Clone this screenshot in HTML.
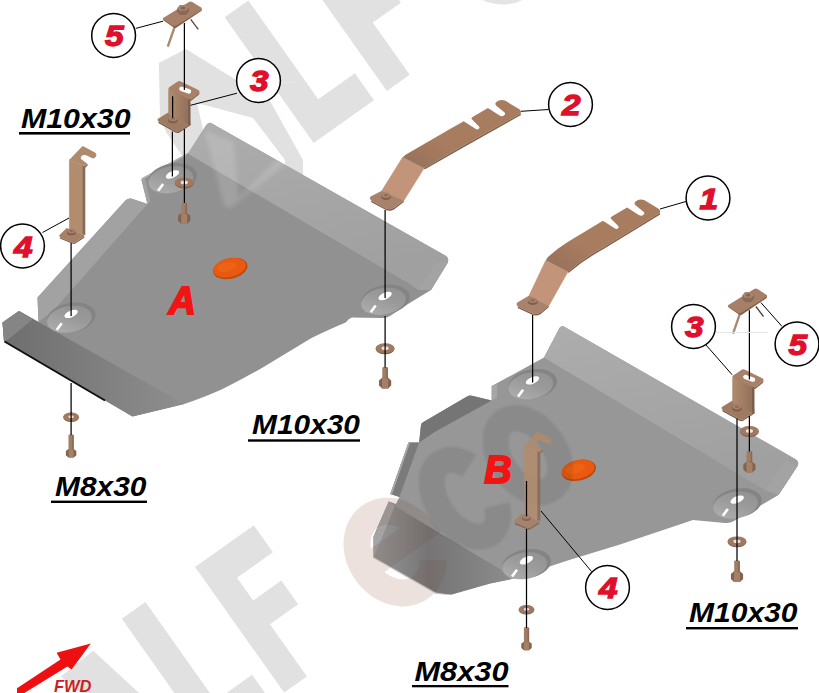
<!DOCTYPE html>
<html>
<head>
<meta charset="utf-8">
<title>Skid plate assembly diagram</title>
<style>
  html, body { margin: 0; padding: 0; background: #ffffff; }
  body { width: 819px; height: 693px; overflow: hidden; font-family: "Liberation Sans", sans-serif; }
  svg { display: block; }
  .lbl { font-family: "Liberation Sans", sans-serif; font-weight: bold; font-style: italic; fill: #000; }
  .num { font-family: "Liberation Sans", sans-serif; font-weight: bold; font-style: italic; fill: #e0102c; stroke: #e0102c; stroke-width: 1.3; font-size: 29.5px; }
  .ab  { font-family: "Liberation Sans", sans-serif; font-weight: bold; font-style: italic; fill: #f01414; stroke: #f01414; stroke-width: 1.8; font-size: 38px; }
  .ln  { stroke: #000; stroke-width: 1.25; fill: none; }
  .ld  { stroke: #000; stroke-width: 1; fill: none; }
  .co  { fill: #fff; stroke: #000; stroke-width: 1.5; }
</style>
</head>
<body>
<svg width="819" height="693" viewBox="0 0 819 693">
<defs>
  <linearGradient id="gFlapA" x1="0" y1="0" x2="1" y2="0">
    <stop offset="0" stop-color="#6e6e6e"/><stop offset="1" stop-color="#8e8e8e"/>
  </linearGradient>
  <linearGradient id="gFlapB" x1="0" y1="0" x2="1" y2="0">
    <stop offset="0" stop-color="#989898"/><stop offset="0.4" stop-color="#767474"/><stop offset="1" stop-color="#8c8c8c"/>
  </linearGradient>
  <linearGradient id="gWallA" x1="0" y1="0" x2="0.35" y2="1">
    <stop offset="0" stop-color="#adadad"/><stop offset="1" stop-color="#a0a0a0"/>
  </linearGradient>
  <radialGradient id="gSink" cx="0.5" cy="0.35" r="0.7">
    <stop offset="0" stop-color="#b4b4b4"/><stop offset="1" stop-color="#959595"/>
  </radialGradient>
  <!-- washer -->
  <g id="washL"><ellipse cx="0" cy="0.7" rx="9.4" ry="5.2" fill="#7f5f4c"/><ellipse cx="0" cy="0" rx="9.4" ry="5" fill="#9f7a63"/><ellipse cx="0" cy="-0.1" rx="3.6" ry="1.9" fill="#f1e3db"/></g>
  <g id="washS"><ellipse cx="0" cy="0.6" rx="7.8" ry="4.6" fill="#7f5f4c"/><ellipse cx="0" cy="0" rx="7.8" ry="4.4" fill="#9f7a63"/><ellipse cx="0" cy="-0.1" rx="2.8" ry="1.5" fill="#f1e3db"/></g>
  <!-- bolt, origin = top of shaft -->
  <g id="boltL">
    <path d="M-2.8 1 Q-2.8 0 -1.8 0 L1.8 0 Q2.8 0 2.8 1 L2.8 12 L-2.8 12 Z" fill="#a27d65"/>
    <path d="M-6.1 13.5 L-3 10.8 L3 10.8 L6.1 13.5 L6.1 18.5 L3 21.6 L-3 21.6 L-6.1 18.5 Z" fill="#83634f"/>
    <path d="M-3 10.8 L3 10.8 L3 21.6 L-3 21.6 Z" fill="#a58068"/>
    <path d="M1.2 0.5 L2.8 1 L2.8 12 L1.2 12 Z" fill="#8a6955"/>
  </g>
  <g id="boltS">
    <path d="M-2.6 1 Q-2.6 0 -1.6 0 L1.6 0 Q2.6 0 2.6 1 L2.6 15.5 L-2.6 15.5 Z" fill="#a27d65"/>
    <path d="M-5.2 16.3 L-2.6 14.4 L2.6 14.4 L5.2 16.3 L5.2 20.8 L2.6 23 L-2.6 23 L-5.2 20.8 Z" fill="#83634f"/>
    <path d="M-2.6 14.4 L2.6 14.4 L2.6 23 L-2.6 23 Z" fill="#a58068"/>
    <path d="M1.1 0.5 L2.6 1 L2.6 15 L1.1 15 Z" fill="#8a6955"/>
  </g>
  <linearGradient id="gB3" x1="0" y1="0" x2="1" y2="0">
    <stop offset="0" stop-color="#b18c70"/><stop offset="1" stop-color="#93705a"/>
  </linearGradient>
  <linearGradient id="gArm" x1="0" y1="1" x2="1" y2="0">
    <stop offset="0" stop-color="#94705a"/><stop offset="0.35" stop-color="#a87c5f"/><stop offset="1" stop-color="#a87c5f"/>
  </linearGradient>
  <!-- bracket 3 (coordinates of left instance) -->
  <g id="b3">
    <path d="M158.3 118.6 L168.6 112.2 L190.4 121.5 L190.4 123.6 L179.6 130.8 Q177.6 132 175.4 131 L158.7 121.6 Q156.6 120 158.3 118.6 Z" fill="#9f7a62"/>
    <path d="M158.7 121.6 L175.4 131 Q177.6 132 179.6 130.8 L190.4 123.6 L190.4 125.3 L179.6 132.4 Q177.6 133.4 175.4 132.5 L158.3 123 Z" fill="#7c5e4b"/>
    <path d="M168.6 90 Q168.6 88 170 87 L188 97.5 L188 124.8 L168.6 114.5 Z" fill="url(#gB3)" stroke="#a27e65" stroke-width="0.5"/>
    <path d="M188 97.5 L190.5 98.7 L190.5 125.3 L188 124.3 Z" fill="#7c5e4b"/>
    <path d="M169.2 87.3 L177.3 81.7 Q179 80.6 181 81.5 L198.3 90 Q200.4 91.3 198.8 93 L191.6 98.8 Q190 99.8 188 98.8 L169.6 89.6 Q168 88.4 169.2 87.3 Z" fill="#a88268"/>
    <path d="M198.8 93 L191.6 98.8 Q190 99.8 188 98.8 L188 100.6 Q190 101.4 191.6 100.5 L198.8 94.7 Q199.8 93.8 199.4 92.3 Z" fill="#86664f"/>
    <rect x="-6.2" y="-2.2" width="12.4" height="4.4" rx="2.2" transform="translate(185.2,90.1) rotate(19)" fill="#fff"/>
    <ellipse cx="172.9" cy="120.2" rx="4.8" ry="3.1" fill="#7e5f4c"/><ellipse cx="172.9" cy="118.6" rx="4.2" ry="2.6" fill="#a6826a"/><ellipse cx="172.9" cy="118.5" rx="2" ry="1.2" fill="#8d6b56"/>
  </g>
  <!-- bracket 5 (coordinates of left instance) -->
  <g id="b5">
    <path d="M174.6 27 L167.8 46.6" stroke="#a88c72" stroke-width="2.4" fill="none"/>
    <path d="M190.7 19.4 L198.3 29.4" stroke="#54433a" stroke-width="1.3" fill="none"/>
    <path d="M163.2 20.2 L174 27.7 Q175.3 28.3 176.6 27.6 L201.6 10.8 L201.6 8.7 L163.2 18.2 Z" fill="#7f604d"/>
    <path d="M163.2 17.9 L189 1.9 Q190.7 1 192.3 2 L201.2 7.6 Q202.6 8.8 201.2 10 L175.8 26 Q174.2 26.8 172.8 25.8 L163.4 19.8 Q162.2 18.8 163.2 17.9 Z" fill="#a67f66"/>
    <path d="M177.2 8.4 L179.8 5.2 L185.6 4.8 L189 7.6 L189 11.6 L186 14.8 L180.4 15 L177.2 12.2 Z" fill="#8a6955"/>
    <path d="M177.2 8.4 L179.8 5.2 L185.6 4.8 L189 7.6 L186.2 10.6 L180.4 11 Z" fill="#a98670"/>
    <ellipse cx="183" cy="8" rx="2.6" ry="1.6" fill="#86654f"/>
  </g>
  <!-- bracket 4 (coordinates of left instance) -->
  <g id="b4">
    <path d="M59.7 234.8 L66.7 227.9 L84.3 235 L84.3 236.4 L75.4 242.2 Q73.8 243 72 242.2 L60.2 237.4 Q58.4 236.2 59.7 234.8 Z" fill="#a68068"/>
    <path d="M60.2 237.4 L72 242.2 Q73.8 243 75.4 242.2 L84.3 236.4 L84.3 237.8 L75.4 243.6 Q73.8 244.3 72 243.6 L59.8 238.6 Z" fill="#7c5e4b"/>
    <path d="M69.4 159.8 L82.6 165.2 L82.6 234.2 L69.4 229.8 Z" fill="#b28c6f" stroke="#b28c6f" stroke-width="0.6"/>
    <path d="M82.4 165.2 L85.3 166.2 L85.3 235.2 L82.4 234.2 Z" fill="#8b6a55"/>
    <path d="M69.4 159.8 L81.6 146.9 Q82.6 146 83.8 146.6 L95 152.4 Q96.9 153.8 96.3 155.8 Q95.4 158.2 93 158.6 L86 155.2 Q83.6 154.4 81.8 155.8 Q80 157.6 81 159 L87.3 163.8 L85.3 166.2 L82.6 165.2 Z" fill="#b08a6d"/>
    <path d="M87.3 163.8 L85.3 166.2 L85.3 168 L87.8 165.2 Z" fill="#86664f"/>
    <ellipse cx="71.4" cy="232.4" rx="4.4" ry="2.9" fill="#7e5f4c"/><ellipse cx="71.4" cy="230.9" rx="3.9" ry="2.5" fill="#a6826a"/><ellipse cx="71.4" cy="230.8" rx="1.8" ry="1.1" fill="#8d6b56"/>
  </g>
  <linearGradient id="gSink2" x1="0" y1="1" x2="1" y2="0">
    <stop offset="0" stop-color="#b2b2b2"/><stop offset="0.55" stop-color="#9a9a9a"/><stop offset="1" stop-color="#909090"/>
  </linearGradient>
  <g id="sink">
    <ellipse cx="0" cy="0" rx="24.6" ry="14.6" fill="#848484" transform="rotate(-10)"/>
    <ellipse cx="-2.2" cy="1.4" rx="22.6" ry="13.2" fill="url(#gSink2)" transform="rotate(-10)"/>
    <ellipse cx="-0.2" cy="-3.6" rx="7.2" ry="3.3" fill="#fff" transform="rotate(-24 -0.2 -3.6)"/>
    <path d="M-14.6 12.6 L-9.6 5.8" stroke="#fff" stroke-width="2.6" stroke-linecap="butt" fill="none"/>
  </g>
  <filter id="blur2" x="-20%" y="-20%" width="140%" height="140%"><feGaussianBlur stdDeviation="2.2"/></filter>
  <filter id="blur1" x="-30%" y="-30%" width="160%" height="160%"><feGaussianBlur stdDeviation="1.2"/></filter>
</defs>

<rect x="0" y="0" width="819" height="693" fill="#ffffff"/>

<!-- ============ WATERMARK ============ -->
<path fill="#e1e1e1" fill-rule="evenodd" d="M158.8 63 L185.9 49 L270 101 L303 160 L303 182 L200 182 L166 132 L160 115 Z M197 103 L253 118 L285 160 L285 182 L215 182 Z"/>
<path fill="#e1e1e1" d="M60.8 676.4 L93.2 650.8 L150 703 L93 703 Z"/>
<g id="wmTop" transform="translate(313.6,142.9) rotate(-35.3)">
  <g fill="#e1e1e1">
    <path d="M0 0 L0 -154 L29 -154 L29 -33 L74 -33 L74 0 Z"/>
    <path d="M89.8 0 L89.8 -154 L161.8 -154 L161.8 -121 L117.8 -121 L117.8 -93 L152.3 -93 L152.3 -64 L117.8 -64 L117.8 0 Z"/>
  </g>
  <ellipse cx="259.5" cy="-52.5" rx="35" ry="43.5" fill="none" stroke="#e6e3e2" stroke-width="27"/>
</g>
<g id="wmBot" transform="translate(210.8,744.5) rotate(-35.3)">
  <g fill="#e1e1e1">
    <path d="M0 0 L0 -154 L29 -154 L29 -33 L74 -33 L74 0 Z"/>
    <path d="M89.8 0 L89.8 -154 L161.8 -154 L161.8 -121 L117.8 -121 L117.8 -93 L152.3 -93 L152.3 -64 L117.8 -64 L117.8 0 Z"/>
  </g>
  <g fill="none" stroke="#ece1dd" stroke-width="27">
    <path d="M227 -54 L296.5 -54 A35 43.5 0 1 0 288 -22"/>
  </g>
</g>

<!-- ============ PLATE A ============ -->
<g id="plateA">
  <!-- main -->
  <path id="plateApath" d="M210.5 122.7 L446 256 Q449.5 258.5 447.5 263 L431 290 L408 304 L390 316 Q386 318.5 381 318 L352 317.5 L349 319 L345.6 322.5 Q330 329 311.5 338 Q285 354 263.6 367 Q243 379 222.6 389 Q205 397 183.5 404.3 L132.5 416.5 L4 341.5 L2.5 322.5 L19 311 L38.5 322 L37.5 297.5 L125 201 Q127 198 131 198.5 L147.5 204 L141.5 180 L141.8 178.2 L186 154 L188.4 153 L206 125.6 Q207.6 122.6 210.5 122.7 Z" fill="#919191"/>
  <!-- top wall -->
  <path d="M210.5 122.7 L446 256 Q449.5 258.5 447.5 263 L431 290 L418 290 L408 283 L188.4 154 L188.4 153 L206 125.6 Q207.6 122.6 210.5 122.7 Z" fill="url(#gWallA)"/>
  <!-- end wall right -->
  <path d="M447.5 263 L431 290 L418 290 L436 262 Z" fill="#a3a3a3"/>
  <!-- left wall -->
  <path d="M37.5 297.5 L125 201 Q127 198 131 198.5 L147.5 204 L54 310 L38.5 322 Z" fill="#a2a2a2"/>
  <!-- tab side -->
  <path d="M141.5 180 L147.5 204 L150.5 201.5 L144.5 177.5 Z" fill="#a2a2a2"/><path d="M141.8 178.2 L186 154 L187 155 L143 179.2 Z" fill="#b4b4b4"/>
  <!-- flap -->
  <path d="M2.5 322.5 L19 311 L184 404 L132.5 416.5 L4 341.5 Z" fill="url(#gFlapA)"/>
  <path d="M2.5 322.5 L19 311 L33 319 L9 339 L4 341.5 Z" fill="#858585"/>
  <path d="M4.5 341.5 L105 400.5" stroke="#111" stroke-width="2" fill="none"/>
  <!-- countersinks -->
  <use href="#sink" x="172.7" y="178.1"/>
  <use href="#sink" x="71.3" y="317.5"/>
  <use href="#sink" x="385.3" y="299.6"/>
  <!-- orange plug -->
  <g transform="translate(230.2,268.2) rotate(-13)"><ellipse cx="0" cy="0.3" rx="17.5" ry="10.3" fill="#c2480c"/><ellipse cx="-0.5" cy="-0.6" rx="16.6" ry="9.2" fill="#e95a10"/><ellipse cx="-3" cy="-2" rx="10" ry="4.6" fill="#ee6618" fill-opacity="0.7"/></g>
</g>

<clipPath id="clipA"><use href="#plateApath"/></clipPath>
<g clip-path="url(#clipA)"><path d="M204.7 131 L233.7 141.5 L238.7 197.5 L291.8 143.6 L304.3 149.8 L229.6 208.7 L223.4 203.7 Z" fill="#fff" fill-opacity="0.14" filter="url(#blur2)"/></g>

<!-- ============ PLATE B ============ -->
<g id="plateB">
  <path id="plateBpath" d="M563 326 L796 459.5 Q799.5 462 797.5 466 L778.5 495 L734 521 Q730 523.5 725 523 L693 520 L620 544.5 L570 559.8 L545 568 L527 575 L513 578.7 L490 583.6 L451.5 594.5 L436 593.5 L373.6 557.6 L373.6 536.4 L388.8 501.5 L396 504 L399.4 497 L390.3 494 L408.5 442.4 L419.1 442.4 L421 425 Q421.4 423 423 422.2 L467 396.5 Q469.5 395 473 396 L491.7 400.5 L491.7 386 L544 357.6 L558.4 330 Q560 326 563 326 Z" fill="#979797"/>
  <!-- back wall -->
  <path d="M563 326 L796 459.5 Q799.5 462 797.5 466 L778.5 495 L765 490 L544 357.6 L558.4 330 Q560 326 563 326 Z" fill="url(#gWallA)"/>
  <path d="M797.5 466 L778.5 495 L765 490 L785 462 Z" fill="#a3a3a3"/>
  <!-- left wall -->
  <path d="M421 425 Q421.4 423 423 422.2 L467 396.5 Q469.5 395 473 396 L491.7 400.5 L434.6 432 L419.1 442.4 Z" fill="#757575"/>
  <!-- tab side -->
  <path d="M491.7 386 L491.7 400.5 L497 398 L497 384 Z" fill="#a6a6a6"/>
  <!-- upper-left flap -->
  <path d="M419.1 442.4 L408.5 442.4 L390.3 494 L399.4 497 Z" fill="#7b7b7b"/><path d="M408.5 442.4 L390.3 494 L392 494.6 L410.2 442.4 Z" fill="#a8a8a8"/>
  <!-- lower front flap -->
  <path d="M388.8 501.5 L373.6 536.4 L373.6 557.6 L436 593.5 L451.5 594.5 L490 583.6 L511 579.2 L500.9 569.7 L394.8 506 Z" fill="url(#gFlapB)"/>
  <path d="M388.8 501.5 L373.6 536.4 L373.6 557.6 L381 540 L394.8 506 Z" fill="#a4a4a4"/><path d="M373.2 556.8 L436 592.6 L452 595 L436 594 L372.7 557.8 Z" fill="#c4c4c4"/>
  <!-- countersinks -->
  <use href="#sink" x="532.7" y="384"/>
  <use href="#sink" x="526.6" y="563.9"/>
  <use href="#sink" x="737.4" y="503.2"/>
  <!-- orange plug -->
  <g transform="translate(578.8,470) rotate(-13)"><ellipse cx="0" cy="0.3" rx="17.5" ry="10.3" fill="#c2480c"/><ellipse cx="-0.5" cy="-0.6" rx="16.6" ry="9.2" fill="#e95a10"/><ellipse cx="-3" cy="-2" rx="10" ry="4.6" fill="#ee6618" fill-opacity="0.7"/></g>
</g>

<!-- ============ WATERMARK over plate B (CO) ============ -->
<clipPath id="clipB"><use href="#plateBpath"/></clipPath>
<g clip-path="url(#clipB)">
  <g transform="translate(210.8,744.5) rotate(-35.3)" fill="none" stroke-width="26">
    <path d="M227 -54 L296.5 -54 A35 43.5 0 1 0 288 -22" stroke="#6a4a3a" stroke-opacity="0.15" stroke-width="27"/>
    <path d="M372 -78 A27 43 0 1 0 372 -30" stroke="#000" stroke-opacity="0.085" filter="url(#blur1)"/>
    <ellipse cx="426" cy="-53" rx="27" ry="41" stroke="#000" stroke-opacity="0.085" filter="url(#blur1)"/>
  </g>
</g>

<!-- ============ BRACKET 2 ============ -->
<g id="br2">
  <path d="M381.9 190.7 L402.7 157.3 L424 168.3 L403.8 200.6 Z" fill="#c29479" stroke="#c29479" stroke-width="0.7"/>
  <path d="M402.7 157.3 L406 154.4 L450 129 L463.7 121.3 L475.8 129 Q477.6 129.9 478.9 128.7 Q480 127.6 479 126.4 L471.6 119 Q471.2 117.7 472.6 116.9 L487.9 108.1 L500 115.8 Q502.6 116.8 504.2 115.3 Q505.8 113.8 504.6 112.6 L496 105.4 Q494.6 103.4 496.4 102 Q498.6 100 501.5 100 Q503.5 100 505 100.6 L519.8 109.4 Q521.6 111.4 520.6 113.6 L464.3 145 L424 168.3 Z" fill="url(#gArm)"/>
  <path d="M520.6 113.6 L464.3 145 L424 168.3 L424.6 169.6 L465 146.4 L521 115 Z" fill="#80604c"/>
  <path d="M370.6 196.6 L381.9 190.7 L403.8 200.6 L394 207.8 Q390.4 210 386.4 208.8 L371.6 200.8 Q368.8 198.6 370.6 196.6 Z" fill="#a8826b"/>
  <path d="M371.6 200.8 L386.4 208.8 Q390.4 210 394 207.8 L403.8 200.6 L403.8 202 L394 209.4 Q390.4 211.4 386.4 210.2 L371 202 Z" fill="#80604c"/>
  <ellipse cx="386" cy="196.8" rx="5" ry="3.1" fill="#7e5f4c"/><ellipse cx="386" cy="195.2" rx="4.4" ry="2.7" fill="#a6826a"/><ellipse cx="386" cy="195.1" rx="2" ry="1.2" fill="#8d6b56"/>
</g>
<!-- ============ BRACKET 1 ============ -->
<g id="br1">
  <path d="M529.2 295.4 L545.9 260.2 L567.9 271.7 L548.8 305.7 Z" fill="#c29479" stroke="#c29479" stroke-width="0.7"/>
  <path d="M545.9 260.2 L547.7 257.3 Q556 249.5 567.3 242.3 L602.9 220.8 L615 228.5 Q616.8 229.4 618.1 228.2 Q619.2 227.1 618.2 225.9 L610.8 218.5 Q610.4 217.2 611.8 216.4 L627.1 207.6 L639.2 215.3 Q641.8 216.3 643.4 214.8 Q645 213.3 643.8 212.1 L635.2 204.9 Q633.8 202.9 635.6 201.5 Q637.8 199.5 640.7 199.5 Q642.7 199.5 644.2 200.1 L659 208.9 Q660.8 210.9 659.8 213.1 L603.5 247.3 Q583 258.5 567.9 271.7 Z" fill="url(#gArm)"/>
  <path d="M659.8 213.1 L603.5 247.3 Q583 258.5 567.9 271.7 L568.5 273 Q583.6 260 604 248.7 L660.2 214.5 Z" fill="#80604c"/>
  <path d="M517.3 302.6 L529.2 295.4 L548.8 305.7 L540.4 312.6 Q536.8 314.8 532.8 313.6 L518.2 306.8 Q515.4 304.6 517.3 302.6 Z" fill="#a8826b"/>
  <path d="M518.2 306.8 L532.8 313.6 Q536.8 314.8 540.4 312.6 L548.8 305.7 L548.8 307.2 L540.4 314.2 Q536.8 316.2 532.8 315 L517.6 308 Z" fill="#80604c"/>
  <ellipse cx="532.7" cy="301.9" rx="5" ry="3.1" fill="#7e5f4c"/><ellipse cx="532.7" cy="300.3" rx="4.4" ry="2.7" fill="#a6826a"/><ellipse cx="532.7" cy="300.2" rx="2" ry="1.2" fill="#8d6b56"/>
</g>

<!-- ============ BRACKETS 4, 3, 5 ============ -->
<use href="#b4"/>
<use href="#b4" transform="translate(455,285.7)" opacity="0.88"/>
<use href="#b3"/>
<use href="#b3" transform="translate(564,288.2)"/>
<use href="#b5"/>
<use href="#b5" transform="translate(565.2,287.1)"/>

<!-- ============ WASHERS / BOLTS ============ -->
<use href="#washL" x="184.3" y="182.5"/>
<use href="#boltL" x="184.2" y="202.3"/>
<use href="#washS" x="71.1" y="416.8"/>
<use href="#boltS" x="71.1" y="434.6"/>
<use href="#washL" x="385.1" y="348.3"/>
<use href="#boltL" x="385.1" y="367"/>
<use href="#washS" x="526.5" y="609.3"/>
<use href="#boltS" x="526.5" y="627.3"/>
<use href="#washL" x="749.4" y="431"/>
<use href="#boltL" x="749.4" y="451"/>
<use href="#washL" x="737" y="541.4"/>
<use href="#boltL" x="737" y="560.5"/>

<!-- ============ ASSEMBLY LINES ============ -->
<g class="ln">
  <!-- plate A, upper-left stack -->
  <path d="M184.4 23 V90"/><path d="M184.4 129 V203"/>
  <path d="M172.6 96.3 V117.7"/><path d="M172.4 131.5 V176.5"/>
  <!-- bracket 4 left -->
  <path d="M71.1 243 V316"/><path d="M71.1 383 V435"/>
  <!-- bracket 2 -->
  <path d="M385.1 210 V298"/><path d="M385.1 316 V367.5"/>
  <!-- bracket 1 -->
  <path d="M532.6 315 V382.5"/>
  <!-- bracket 4 right -->
  <path d="M526.5 481 V516"/><path d="M526.5 529 V628"/>
  <!-- right stack -->
  <path d="M749.4 310.2 V379.5"/><path d="M749.4 416 V451.5"/>
  <path d="M737 418.5 V561"/>
</g>

<!-- ============ LEADERS ============ -->
<g class="ld">
  <path d="M135.8 28.4 L163 21.2"/>
  <path d="M237 93.2 L190.5 105.3"/>
  <path d="M42.5 232.5 L69 218"/>
  <path d="M521 111.3 L548.5 109.5"/>
  <path d="M660 209 L686 201.5"/>
  <path d="M706 345 L732.1 374.7"/>
  <path d="M782 326.4 L760.9 302.6"/>
  <path d="M541 511 L591.5 571.5"/>
  <path d="M237 82.2 H298" stroke="#e6e6e6"/>
  <path d="M672 332.4 H768" stroke="#e6e6e6"/>
</g>

<!-- ============ CALLOUTS ============ -->
<circle class="co" cx="113.6" cy="35.5" r="21.9"/><text class="num" x="105.0" y="46.1" textLength="18.6" lengthAdjust="spacingAndGlyphs">5</text>
<circle class="co" cx="258.5" cy="80.5" r="21.9"/><text class="num" x="249.9" y="91.1" textLength="18.6" lengthAdjust="spacingAndGlyphs">3</text>
<circle class="co" cx="22.5" cy="246" r="21.9"/><text class="num" x="13.9" y="256.6" textLength="18.6" lengthAdjust="spacingAndGlyphs">4</text>
<circle class="co" cx="570.5" cy="104.5" r="21.9"/><text class="num" x="561.9" y="115.1" textLength="18.6" lengthAdjust="spacingAndGlyphs">2</text>
<circle class="co" cx="708" cy="198" r="21.9"/><text class="num" x="699.4" y="208.6" textLength="18.6" lengthAdjust="spacingAndGlyphs">1</text>
<circle class="co" cx="693.5" cy="326.5" r="21.9"/><text class="num" x="684.9" y="337.1" textLength="18.6" lengthAdjust="spacingAndGlyphs">3</text>
<circle class="co" cx="797" cy="344" r="21.9"/><text class="num" x="788.4" y="354.6" textLength="18.6" lengthAdjust="spacingAndGlyphs">5</text>
<circle class="co" cx="607.5" cy="587.5" r="21.9"/><text class="num" x="598.9" y="598.1" textLength="18.6" lengthAdjust="spacingAndGlyphs">4</text>

<!-- ============ LABELS ============ -->
<g class="lbl" font-size="27">
  <text x="21" y="128.2" textLength="109.5" lengthAdjust="spacingAndGlyphs">M10x30</text>
  <rect x="19" y="132" width="111" height="2.6"/>
  <text x="252" y="434.2" textLength="108" lengthAdjust="spacingAndGlyphs">M10x30</text>
  <rect x="248" y="439.3" width="112" height="2.4"/>
  <text x="55" y="496.2" textLength="91.5" lengthAdjust="spacingAndGlyphs">M8x30</text>
  <rect x="51" y="500.6" width="96" height="2.4"/>
  <text x="414.5" y="681" textLength="94" lengthAdjust="spacingAndGlyphs">M8x30</text>
  <rect x="412" y="685" width="96.5" height="2.3"/>
  <text x="689" y="622" textLength="108.5" lengthAdjust="spacingAndGlyphs">M10x30</text>
  <rect x="686" y="627" width="112" height="2.4"/>
</g>
<text class="ab" x="168.5" y="314">A</text>
<text class="ab" x="484.3" y="483.3">B</text>

<!-- ============ FWD ARROW ============ -->
<g fill="#ee1010">
  <path d="M17 688.3 L60.5 659.6 L56.6 652.7 L90.8 643.4 L71.6 669.6 L67.4 666.4 L23.5 693.5 L17 693.5 Z"/>
</g>
<text x="54" y="692.4" font-family="Liberation Sans, sans-serif" font-style="italic" font-weight="bold" font-size="16.5" fill="#cf1d1d" textLength="37.5" lengthAdjust="spacingAndGlyphs">FWD</text>
</svg>
</body>
</html>
